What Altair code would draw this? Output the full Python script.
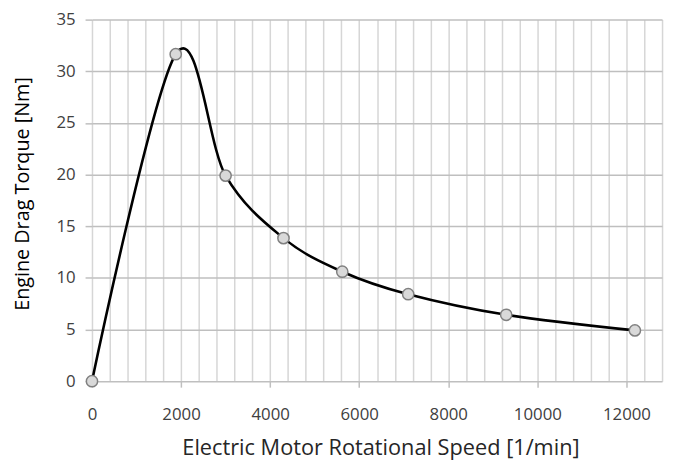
import altair as alt
import pandas as pd

speed = [0, 1880, 3000, 4300, 5620, 7100, 9300, 12190]
torque = [0, 31.65, 19.9, 13.85, 10.6, 8.42, 6.43, 4.92]

x_grid = list(range(0, 12801, 400))
y_ticks = [0, 5, 10, 15, 20, 25, 30, 35]

df = pd.DataFrame({"speed": speed, "torque": torque})

FONT = "Open Sans"

x_enc = alt.X(
    "speed:Q",
    scale=alt.Scale(domain=[0, 12800], nice=False, zero=True),
    axis=alt.Axis(
        values=x_grid,
        tickCount=100,
        format="d",
        labelExpr="datum.value % 2000 === 0 ? datum.label : ''",
        labelOverlap=False,
        labelFlush=False,
        title="Electric Motor Rotational Speed [1/min]",
        domain=False,
        grid=True,
        gridColor="#d6d6d6",
        gridWidth=1.5,
        tickSize=6,
        tickWidth=1.5,
        tickColor="#bfbfbf",
        tickOpacity={"condition": {"test": "datum.value % 2000 === 0", "value": 1}, "value": 0},
        labelFont=FONT,
        labelFontSize=17,
        labelColor="#404040",
        labelPadding=20,
        titleFont=FONT,
        titleFontSize=22,
        titleFontWeight="normal",
        titleColor="#262626",
        titleX=292,
        titleY=67,
        titleBaseline="middle",
        titleAlign="center",
    ),
)

y_enc = alt.Y(
    "torque:Q",
    scale=alt.Scale(domain=[0, 35], nice=False),
    axis=alt.Axis(
        values=y_ticks,
        tickCount=20,
        labelOverlap=False,
        title="Engine Drag Torque [Nm]",
        domain=False,
        grid=True,
        gridColor="#bfbfbf",
        gridWidth=1.5,
        tickSize=7,
        tickWidth=1.5,
        tickColor="#bfbfbf",
        labelFont=FONT,
        labelFontSize=17,
        labelColor="#404040",
        labelPadding=10,
        titleFont=FONT,
        titleFontSize=20,
        titleFontWeight="normal",
        titleColor="#000000",
        titleAngle=-90,
        titleX=-70,
        titleY=176,
        titleBaseline="middle",
        titleAlign="center",
    ),
)

base = alt.Chart(df)

line = base.mark_line(color="black", strokeWidth=2.6, interpolate="cardinal", tension=0).encode(x=x_enc, y=y_enc)
points = base.mark_point(filled=True, fill="#d9d9d9", stroke="#808080", strokeWidth=1.5, size=130, opacity=1, shape="circle").encode(x="speed:Q", y="torque:Q")

chart = (
    alt.layer(line, points)
    .properties(
        width=577,
        height=366,
        autosize=alt.AutoSizeParams(type="none"),
        padding={"left": 85, "top": 9, "right": 5, "bottom": 79},
    )
    .configure_view(strokeWidth=0)
)

chart.save("out.html", embed_options={"renderer": "svg", "actions": False})
